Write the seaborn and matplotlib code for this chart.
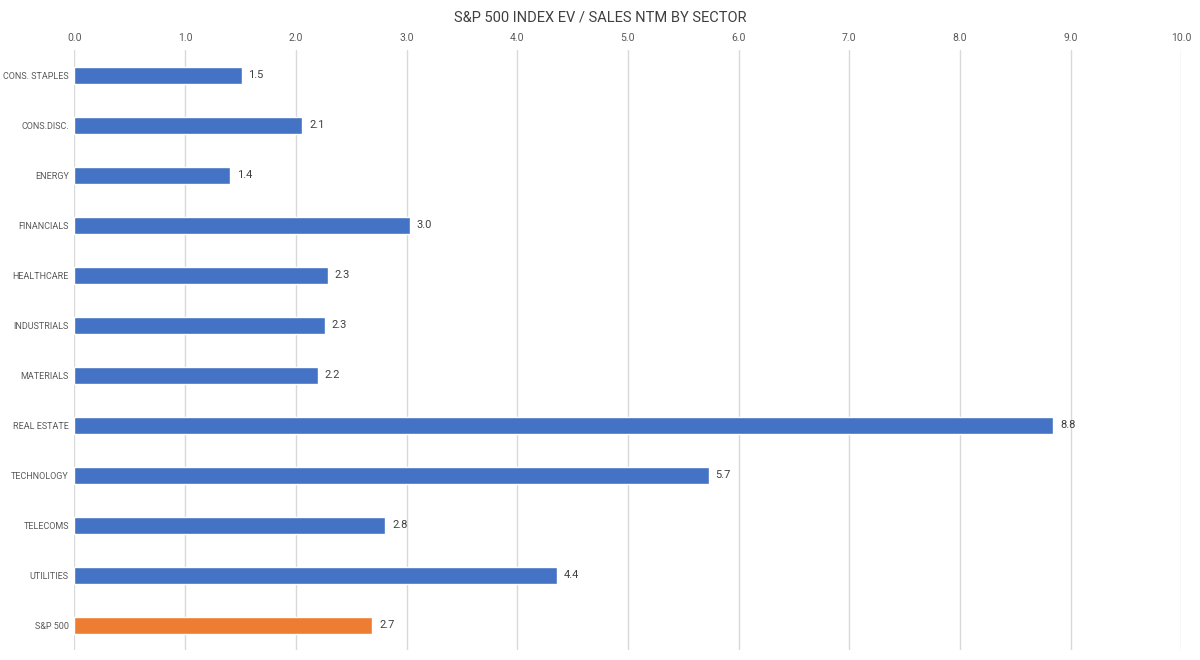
"""S&P 500: EV / Sales NTM por setor (barras horizontais)."""

import matplotlib
matplotlib.use("Agg")
import matplotlib.pyplot as plt
import pandas as pd
import seaborn as sns

sectors = [
    "CONS. STAPLES", "CONS.DISC.", "ENERGY", "FINANCIALS", "HEALTHCARE",
    "INDUSTRIALS", "MATERIALS", "REAL ESTATE", "TECHNOLOGY", "TELECOMS",
    "UTILITIES", "S&P 500",
]
ev_sales = [1.51, 2.06, 1.41, 3.03, 2.29, 2.26, 2.20, 8.84, 5.73, 2.81, 4.36, 2.69]
groups = ["sector"] * 11 + ["index"]
x_ticks = [0, 1, 2, 3, 4, 5, 6, 7, 8, 9, 10]

BLUE = "#4472C4"
ORANGE = "#ED7D31"
GREY_TXT = "#595959"

sns.set_theme(style="white")
plt.rcParams["font.family"] = ["Roboto", "DejaVu Sans"]

df = pd.DataFrame({"SECTOR": sectors, "VALUE": ev_sales, "GROUP": groups})

fig = plt.figure(figsize=(12, 6.6), dpi=100)
# área do gráfico: grade de x=74px até x=1181px, y=50px até y=650px
ax = fig.add_axes([0.062, 0.015, 0.9225, 0.909])

sns.barplot(
    data=df, y="SECTOR", x="VALUE", hue="GROUP",
    palette={"sector": BLUE, "index": ORANGE},
    order=sectors, width=0.34, dodge=False, saturation=1,
    legend=False, ax=ax,
)

for cont in ax.containers:
    ax.bar_label(cont, fmt="%.1f", padding=5, fontsize=8, color="#404040")

ax.set_xlim(0, 10)
ax.set_ylim(len(sectors) - 0.5, -0.5)
ax.set_xticks(x_ticks)
ax.set_xticklabels([f"{t:.1f}" for t in x_ticks])
ax.xaxis.tick_top()
ax.tick_params(axis="x", length=0, pad=5, labelsize=7.5, labelcolor=GREY_TXT)
ax.tick_params(axis="y", length=0, pad=4, labelsize=6.5, labelcolor=GREY_TXT)
ax.grid(axis="x", color="#d9d9d9", linewidth=1)
ax.set_axisbelow(True)
for s in ax.spines.values():
    s.set_visible(False)
ax.set_xlabel("")
ax.set_ylabel("")

fig.text(0.5, 0.974, "S&P 500 INDEX EV / SALES NTM BY SECTOR",
         ha="center", va="center", fontsize=10.5, color="#404040")

fig.savefig("out.png", dpi=100)
